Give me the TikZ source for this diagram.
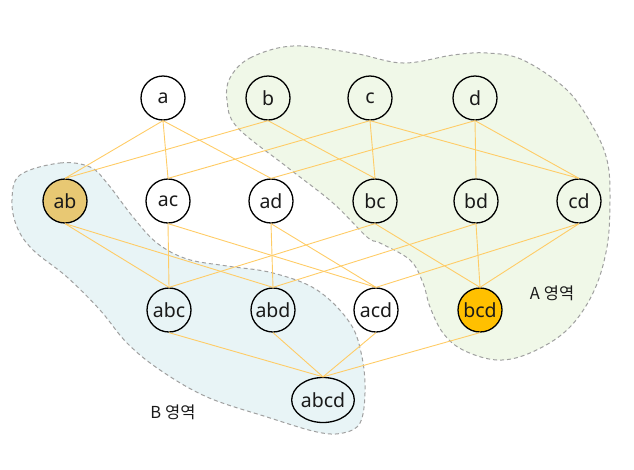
\documentclass[tikz,border=0pt]{standalone}
\usepackage{fontspec}
\setmainfont{Noto Sans}
\newfontfamily\kr{Noto Sans CJK KR}
\usetikzlibrary{shapes.geometric}
\definecolor{edgec}{HTML}{FFCC66}
\definecolor{blobA}{HTML}{F0F8E8}
\definecolor{blobB}{HTML}{E8F4F6}
\definecolor{blobline}{HTML}{A0A0A0}
\definecolor{abfill}{HTML}{E8C873}
\definecolor{bcdfill}{HTML}{FFC000}
\definecolor{txt}{HTML}{1A1A1A}
\begin{document}
\begin{tikzpicture}[x=1pt,y=-1pt,
  setnode/.style={circle,draw=black,line width=1.3pt,minimum size=44pt,inner sep=0pt,text=txt,font=\fontsize{19.5}{22}\selectfont},
  link/.style={draw=edgec,line width=0.9pt},
  blob/.style={draw=blobline,line width=1pt,dash pattern=on 4pt off 3pt},
  region/.style={text=txt,font=\kr\fontsize{16.5}{19}\selectfont}]
\useasboundingbox (0,0) rectangle (634,469);
% regions
\path[blob,fill=blobB] plot[smooth cycle,tension=0.6] coordinates {
 (20,175) (60,163) (90,167) (107,183) (133,217) (157,243) (187,259) (227,266)
 (273,273) (317,290) (350,323) (362,357) (365,393) (360,423) (343,433) (317,432)
 (267,417) (207,397) (160,370) (127,343) (100,310) (67,277) (33,250) (17,227) (12,200)};
\path[blob,fill=blobA] plot[smooth cycle,tension=0.6] coordinates {
 (230,78) (250,58) (293,46) (353,53) (403,63) (453,55) (487,53) (523,60)
 (567,90) (593,127) (607,160) (610,197) (607,247) (593,293) (567,330) (530,353)
 (497,360) (463,350) (443,333) (430,307) (423,283) (410,260) (380,243) (367,237)
 (333,203) (287,167) (237,127) (227,100)};
% nodes
\node[setnode] (a) at (163,98) {a};
\node[setnode] (b) at (268,98) {b};
\node[setnode] (c) at (370,98) {c};
\node[setnode] (d) at (475,98) {d};
\node[setnode,fill=abfill] (ab) at (65,201) {ab};
\node[setnode] (ac) at (168,201) {ac};
\node[setnode] (ad) at (271,201) {ad};
\node[setnode] (bc) at (375,201) {bc};
\node[setnode] (bd) at (476,201) {bd};
\node[setnode] (cd) at (579,201) {cd};
\node[setnode] (abc) at (169,310) {abc};
\node[setnode] (abd) at (273,310) {abd};
\node[setnode] (acd) at (376,310) {acd};
\node[setnode,fill=bcdfill] (bcd) at (480,310) {bcd};
\node[setnode,ellipse,minimum width=56pt,minimum height=45pt] (abcd) at (323,400) {abcd};
% edges
\foreach \u/\v in {a/ab,a/ac,a/ad,b/ab,b/bc,c/ac,c/bc,c/cd,d/ad,d/bd,d/cd,
  ab/abc,ab/abd,ac/abc,ac/acd,ad/abd,ad/acd,bc/abc,bc/bcd,bd/abd,bd/bcd,cd/acd,cd/bcd,
  abc/abcd,abd/abcd,acd/abcd,bcd/abcd}
  \draw[link] (\u.south) -- (\v.north);
% labels
\node[region] (la) at (552,293) {A\hspace{4pt}영역};
\node[region] (lb) at (173,412) {B\hspace{4pt}영역};
\end{tikzpicture}
\end{document}
